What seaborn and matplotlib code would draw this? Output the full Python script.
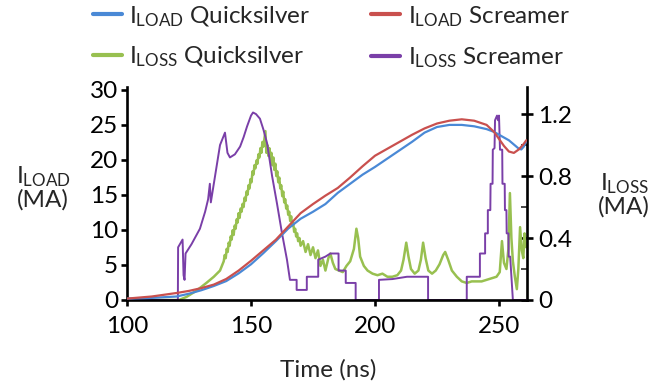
import matplotlib
matplotlib.use("Agg")
import matplotlib.pyplot as plt
import seaborn as sns
import pandas as pd
from matplotlib.ticker import FixedLocator
from matplotlib.lines import Line2D

sns.set_theme(style="white")
plt.rcParams['font.family'] = ['Lato', 'DejaVu Sans']
plt.rcParams['mathtext.fontset'] = 'custom'
plt.rcParams['mathtext.rm'] = 'Lato'
plt.rcParams['mathtext.it'] = 'Lato:italic'
plt.rcParams['mathtext.bf'] = 'Lato:bold'

# ---------------- data ----------------
t_load_qs = [100, 110, 120, 125, 130, 135, 140, 145, 150, 155, 160, 165, 170, 175, 180, 185, 190,
             195, 200, 205, 210, 215, 220, 225, 230, 235, 240, 245, 248, 251, 254, 256, 258, 259,
             260, 261]
i_load_qs = [0.2, 0.3, 0.5, 0.9, 1.4, 2.0, 2.7, 3.8, 5.1, 6.7, 8.4, 10.2, 11.6, 12.6, 13.7, 15.3,
             16.6, 17.9, 19.0, 20.2, 21.4, 22.6, 23.9, 24.7, 25.0, 25.0, 24.8, 24.4, 24.0, 23.4,
             22.8, 22.2, 21.6, 21.5, 21.9, 22.7]

t_load_scr = [100, 110, 120, 125, 130, 135, 140, 145, 150, 155, 160, 165, 170, 175, 180, 185, 190,
              195, 200, 205, 210, 215, 220, 225, 230, 235, 240, 245, 248, 250, 252, 254, 256, 258,
              260, 261]
i_load_scr = [0.2, 0.5, 1.0, 1.3, 1.7, 2.2, 3.0, 4.2, 5.6, 7.1, 8.6, 10.5, 12.4, 13.7, 14.9, 16.0,
              17.5, 19.1, 20.6, 21.6, 22.6, 23.6, 24.5, 25.2, 25.6, 25.8, 25.6, 25.0, 24.0, 23.0,
              22.0, 21.2, 21.0, 21.5, 22.3, 22.8]

# I_LOSS Quicksilver as (time, current) pairs
loss_qs_pts = [
    (100, 0), (121, 0), (124, 0.02), (128, 0.06), (132, 0.11), (135, 0.15), (137.5, 0.19),
    (139, 0.25), (139.4, 0.29), (139.8, 0.27), (140.2, 0.33), (140.6, 0.31), (141.0, 0.37),
    (141.4, 0.35), (141.8, 0.41), (142.2, 0.39), (142.6, 0.45), (143.0, 0.42), (143.4, 0.48),
    (143.8, 0.46), (144.2, 0.52), (144.6, 0.50), (145.0, 0.56), (145.4, 0.53), (145.8, 0.59),
    (146.2, 0.57), (146.6, 0.62), (147.0, 0.60), (147.4, 0.66), (147.8, 0.64), (148.2, 0.70),
    (148.6, 0.68), (149.0, 0.74), (149.4, 0.72), (149.8, 0.78), (150.2, 0.76), (150.6, 0.83),
    (151.0, 0.81), (151.4, 0.87), (151.8, 0.85), (152.2, 0.90), (152.6, 0.88), (153.0, 0.94),
    (153.4, 0.92), (153.8, 0.98), (154.2, 0.95), (154.6, 1.02), (155.0, 0.99), (155.4, 1.04),
    (155.8, 1.09), (156.2, 0.95), (156.6, 1.00), (157.0, 0.93), (157.4, 0.98), (157.8, 0.90),
    (158.2, 0.95), (158.6, 0.87), (159.0, 0.92), (159.4, 0.84), (159.8, 0.88), (160.2, 0.80),
    (160.6, 0.83), (161.0, 0.76), (161.4, 0.79), (161.8, 0.72), (162.2, 0.74), (162.6, 0.67),
    (163.0, 0.70), (163.4, 0.63), (163.8, 0.65), (164.2, 0.59), (164.6, 0.61), (165.0, 0.55),
    (165.4, 0.57), (165.8, 0.51), (166.2, 0.54), (166.6, 0.48), (167.0, 0.50), (167.4, 0.44),
    (167.8, 0.46), (168.2, 0.41), (168.6, 0.43), (169.0, 0.38), (169.5, 0.40), (170, 0.35),
    (171, 0.38), (172, 0.31), (173, 0.36), (174, 0.29), (175, 0.34), (176, 0.27), (177, 0.32),
    (178, 0.22), (179, 0.26), (180, 0.19), (181.2, 0.27), (182, 0.30), (183, 0.24), (184, 0.20),
    (185.5, 0.19), (187, 0.18), (188.5, 0.22), (190, 0.25), (191.5, 0.33), (192.5, 0.46),
    (193.2, 0.40), (194, 0.28), (195.5, 0.22), (197, 0.19), (199, 0.17), (201, 0.16),
    (203, 0.17), (205, 0.15), (207, 0.15), (209, 0.16), (210.5, 0.19), (211.5, 0.26),
    (212.6, 0.37), (213.5, 0.28), (214.5, 0.20), (216, 0.17), (217.5, 0.19), (218.5, 0.26),
    (219.4, 0.37), (220.4, 0.27), (221.5, 0.19), (223, 0.17), (224.5, 0.19), (226, 0.23),
    (227.5, 0.29), (228.3, 0.31), (229.5, 0.26), (231, 0.19), (233, 0.15), (235, 0.12),
    (237, 0.11), (239, 0.12), (241, 0.12), (243, 0.12), (245, 0.13), (247, 0.14), (249, 0.15),
    (250.3, 0.18), (251.2, 0.38), (252, 0.24), (253, 0.20), (253.8, 0.33), (254.4, 0.69),
    (255, 0.40), (255.6, 0.25), (256.4, 0.15), (257.2, 0.07), (257.8, 0.20), (258.5, 0.47),
    (259.2, 0.32), (259.8, 0.27), (260.3, 0.43), (261, 0.34),
]
t_loss_qs = [p[0] for p in loss_qs_pts]
i_loss_qs = [p[1] for p in loss_qs_pts]

t_loss_scr = [100, 120.5, 120.6, 122.4, 122.8, 123.2, 123.6, 126, 129.4, 131.5, 132.7, 133.4, 133.8,
              135.5, 137.5, 139.5, 140.5, 141.5, 143.5, 145.6, 147, 148.4, 150, 150.8, 152, 153.6,
              155, 156.5, 158.5, 160.5, 162.5, 164.5, 165.7, 168.4, 168.4, 172.5, 172.5, 177.1,
              177.1, 180, 182, 185.3, 185.3, 188.2, 188.2, 192.2, 192.2, 201.6, 201.6, 207, 212.9,
              221.4, 221.4, 237.0, 237.0, 242.3, 242.3, 244.4, 244.4, 245.5, 245.5, 246.5, 246.6,
              247.4, 247.5, 248.2, 248.4, 249.2, 249.6, 250.0, 250.4, 251.3, 251.4, 252.3, 252.4,
              253.0, 253.1, 253.8, 253.9, 254.5, 255.6, 261]
i_loss_scr = [0, 0, 0.34, 0.39, 0.16, 0.13, 0.30, 0.36, 0.46, 0.57, 0.65, 0.75, 0.63, 0.80, 1.0,
              1.08, 0.95, 0.92, 0.94, 0.99, 1.05, 1.12, 1.19, 1.21, 1.20, 1.17, 1.10, 1.01, 0.80,
              0.62, 0.43, 0.26, 0.13, 0.13, 0.065, 0.065, 0.15, 0.15, 0.26, 0.28, 0.30, 0.30, 0.19,
              0.19, 0.11, 0.11, 0, 0, 0.13, 0.135, 0.15, 0.15, 0, 0, 0.15, 0.15, 0.30, 0.30, 0.43,
              0.43, 0.58, 0.58, 0.75, 0.75, 0.97, 0.98, 1.16, 1.19, 1.16, 1.19, 0.97, 0.97, 0.75,
              0.75, 0.58, 0.58, 0.43, 0.43, 0.28, 0.28, 0, 0]

x_ticks = [100, 150, 200, 250]
left_ticks = [0, 5, 10, 15, 20, 25, 30]
right_major = [0, 0.4, 0.8, 1.2]
right_minor = [0.2, 0.6, 1.0]
right_labels = ["0", "0.4", "0.8", "1.2"]

lbl_load_qs = r"I$_{\mathrm{LOAD}}$ Quicksilver"
lbl_load_scr = r"I$_{\mathrm{LOAD}}$ Screamer"
lbl_loss_qs = r"I$_{\mathrm{LOSS}}$ Quicksilver"
lbl_loss_scr = r"I$_{\mathrm{LOSS}}$ Screamer"

c_blue = "#4A89D6"
c_red = "#C9504E"
c_green = "#98C050"
c_purple = "#7A3FA8"

# ---------------- figure ----------------
fig = plt.figure(figsize=(6.64, 3.85), dpi=100)
ax = fig.add_axes([0.1913, 0.2208, 0.6024, 0.553])
ax2 = ax.twinx()

def draw(a, t, v, color, lw, label, z):
    df = pd.DataFrame({"t": t, "v": v})
    sns.lineplot(data=df, x="t", y="v", ax=a, color=color, linewidth=lw, label=label,
                 estimator=None, sort=False, legend=False, zorder=z)

draw(ax2, t_loss_qs, i_loss_qs, c_green, 1.8, lbl_loss_qs, 2)
draw(ax2, t_loss_scr, i_loss_scr, c_purple, 1.4, lbl_loss_scr, 3)
draw(ax, t_load_qs, i_load_qs, c_blue, 1.6, lbl_load_qs, 4)
draw(ax, t_load_scr, i_load_scr, c_red, 1.6, lbl_load_scr, 5)

ax.set_zorder(ax2.get_zorder() + 1)
ax.patch.set_visible(False)

ax.set_xlim(100, 261.3)
ax.set_ylim(0, 30.4)
ax2.set_ylim(0, 1.374)

ax.set_xticks(x_ticks)
ax.set_yticks(left_ticks)
ax2.yaxis.set_major_locator(FixedLocator(right_major))
ax2.yaxis.set_minor_locator(FixedLocator(right_minor))
ax2.set_yticklabels(right_labels)

for a in (ax, ax2):
    a.set_xlabel("")
    a.set_ylabel("")
    a.grid(False)
    for s in a.spines.values():
        s.set_linewidth(1.9)
        s.set_color("black")
    a.spines["top"].set_visible(False)

ax.spines["right"].set_visible(False)
ax2.spines["left"].set_visible(False)
ax2.spines["bottom"].set_visible(False)

fs = 17.5
ax.tick_params(axis="x", which="major", direction="out", length=4.5, width=1.9,
               labelsize=fs, pad=7, colors="black", bottom=True)
ax.tick_params(axis="y", which="major", direction="out", length=4.5, width=1.9,
               labelsize=fs, pad=2, colors="black", left=True)
ax2.tick_params(axis="y", which="major", direction="inout", length=8, width=1.9,
                labelsize=fs, pad=4, colors="black", right=True)
ax2.tick_params(axis="y", which="minor", direction="in", length=4, width=1.2,
                right=True)

fig.text(0.494, 0.021, "Time (ns)", fontsize=fs, ha="center", va="baseline")
fig.text(0.065, 0.512, "I$_{\\mathrm{LOAD}}$\n(MA)", fontsize=fs, ha="center", va="center",
         linespacing=1.0)
fig.text(0.94, 0.495, "I$_{\\mathrm{LOSS}}$\n(MA)", fontsize=fs, ha="center", va="center",
         linespacing=1.0)

# legend proxies (so the plotted lines keep their own widths)
proxies = [Line2D([], [], color=c, lw=3) for c in (c_blue, c_green, c_red, c_purple)]
labels = [lbl_load_qs, lbl_loss_qs, lbl_load_scr, lbl_loss_scr]
leg = fig.legend(proxies, labels, ncol=2, loc="upper left", bbox_to_anchor=(0.125, 1.015),
                 frameon=False, fontsize=fs, handlelength=1.2, handletextpad=0.3,
                 columnspacing=2.5, labelspacing=0.68, borderaxespad=0)

fig.savefig("out.png", dpi=100)
